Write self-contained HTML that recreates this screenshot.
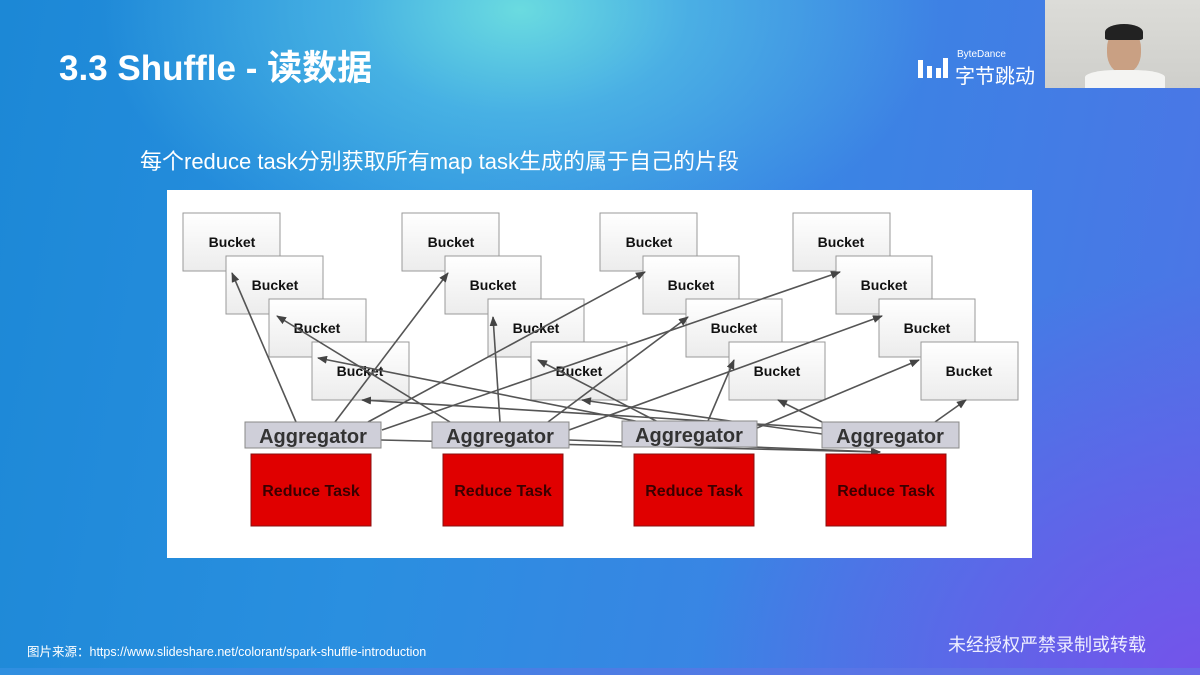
<!DOCTYPE html>
<html><head><meta charset="utf-8"><style>
html,body{margin:0;padding:0}
body{width:1200px;height:675px;overflow:hidden;position:relative;font-family:"Liberation Sans","Noto Sans CJK SC",sans-serif;
background:radial-gradient(ellipse 420px 260px at 520px 10px,#6adbe0 0%,rgba(90,200,230,0.6) 40%,rgba(60,150,225,0) 100%),radial-gradient(ellipse 500px 400px at 1200px 675px,rgba(120,80,235,0.9) 0%,rgba(120,80,235,0) 100%),linear-gradient(100deg,#1c88d6 0%,#2a8fe0 35%,#3a84e4 65%,#4d74e6 100%);}
.t{position:absolute;color:#fff}
</style></head><body>
<div class="t" style="left:59px;top:40px;font-size:35px;font-weight:bold">3.3 Shuffle - 读数据</div>
<div class="t" style="left:918px;top:54px;width:30px;height:26px">
<svg width="30" height="26"><rect x="0" y="6" width="5" height="18" fill="#fff"/><rect x="9" y="12" width="5" height="12" fill="#fff"/><rect x="18" y="14" width="5" height="10" fill="#fff"/><rect x="25" y="4" width="5" height="20" fill="#fff"/></svg></div>
<div class="t" style="left:957px;top:49px;font-size:10px">ByteDance</div>
<div class="t" style="left:955px;top:60px;font-size:20px">字节跳动</div>
<div style="position:absolute;left:1045px;top:0;width:155px;height:88px;background:linear-gradient(180deg,#dcdcd8,#cfcfcb)">
<div style="position:absolute;left:62px;top:28px;width:34px;height:45px;border-radius:45%;background:#c9a083"></div>
<div style="position:absolute;left:60px;top:24px;width:38px;height:16px;border-radius:50% 50% 10% 10%;background:#222"></div>
<div style="position:absolute;left:40px;top:70px;width:80px;height:18px;border-radius:40% 40% 0 0;background:#f4f4f2"></div>
</div>
<div style="position:absolute;left:0;top:668px;width:1200px;height:7px;background:linear-gradient(90deg,#2f8fe0,#6a6ae8)"></div>
<div class="t" style="left:140px;top:144px;font-size:22px">每个reduce task分别获取所有map task生成的属于自己的片段</div>
<div style="position:absolute;left:167px;top:190px;width:865px;height:368px;background:#fff"></div>
<svg style="position:absolute;left:0;top:0" width="1200" height="675">
<defs>
<linearGradient id="bg" x1="0" y1="0" x2="0" y2="1"><stop offset="0" stop-color="#fff"/><stop offset="1" stop-color="#ececec"/></linearGradient>
<marker id="a" markerWidth="10" markerHeight="8" refX="9" refY="4" orient="auto" markerUnits="userSpaceOnUse"><path d="M0,0 L10,4 L0,8 z" fill="#444"/></marker>
</defs>
<g font-family="Liberation Sans,sans-serif" font-weight="bold" font-size="14" fill="#111" text-anchor="middle">
<g stroke="#999" fill="url(#bg)">
<rect x="183" y="213" width="97" height="58"/><rect x="226" y="256" width="97" height="58"/><rect x="269" y="299" width="97" height="58"/><rect x="312" y="342" width="97" height="58"/>
<rect x="402" y="213" width="97" height="58"/><rect x="445" y="256" width="96" height="58"/><rect x="488" y="299" width="96" height="58"/><rect x="531" y="342" width="96" height="58"/>
<rect x="600" y="213" width="97" height="58"/><rect x="643" y="256" width="96" height="58"/><rect x="686" y="299" width="96" height="58"/><rect x="729" y="342" width="96" height="58"/>
<rect x="793" y="213" width="97" height="58"/><rect x="836" y="256" width="96" height="58"/><rect x="879" y="299" width="96" height="58"/><rect x="921" y="342" width="97" height="58"/>
</g>
<text x="232" y="247">Bucket</text><text x="275" y="290">Bucket</text><text x="317" y="333">Bucket</text><text x="360" y="376">Bucket</text>
<text x="451" y="247">Bucket</text><text x="493" y="290">Bucket</text><text x="536" y="333">Bucket</text><text x="579" y="376">Bucket</text>
<text x="649" y="247">Bucket</text><text x="691" y="290">Bucket</text><text x="734" y="333">Bucket</text><text x="777" y="376">Bucket</text>
<text x="841" y="247">Bucket</text><text x="884" y="290">Bucket</text><text x="927" y="333">Bucket</text><text x="969" y="376">Bucket</text>
<g stroke="#555" stroke-width="1.6" fill="none" marker-end="url(#a)">
<line x1="296" y1="422" x2="232" y2="273"/><line x1="335" y1="422" x2="448" y2="273"/><line x1="368" y1="422" x2="645" y2="272"/><line x1="382" y1="430" x2="840" y2="272"/>
<line x1="450" y1="422" x2="277" y2="316"/><line x1="500" y1="422" x2="493" y2="317"/><line x1="548" y1="422" x2="688" y2="317"/><line x1="569" y1="430" x2="882" y2="316"/>
<line x1="640" y1="422" x2="318" y2="358"/><line x1="660" y1="423" x2="538" y2="360"/><line x1="708" y1="421" x2="734" y2="360"/><line x1="757" y1="428" x2="919" y2="360"/>
<line x1="822" y1="428" x2="362" y2="400"/><line x1="822" y1="434" x2="582" y2="400"/><line x1="822" y1="422" x2="778" y2="400"/><line x1="935" y1="422" x2="966" y2="400"/>
<line x1="381" y1="440" x2="880" y2="452"/><line x1="569" y1="440" x2="880" y2="452"/>
</g>
<g stroke="#888" fill="#cfcfd9">
<rect x="245" y="422" width="136" height="26"/><rect x="432" y="422" width="137" height="26"/><rect x="622" y="421" width="135" height="26"/><rect x="822" y="422" width="137" height="26"/>
</g>
<g font-size="20" fill="#333" font-weight="normal" style="font-weight:600">
<text x="313" y="443">Aggregator</text><text x="500" y="443">Aggregator</text><text x="689" y="442">Aggregator</text><text x="890" y="443">Aggregator</text>
</g>
<g stroke="#8a1010" fill="#e00000">
<rect x="251" y="454" width="120" height="72"/><rect x="443" y="454" width="120" height="72"/><rect x="634" y="454" width="120" height="72"/><rect x="826" y="454" width="120" height="72"/>
</g>
<g font-size="16" fill="#3a0000">
<text x="311" y="496">Reduce Task</text><text x="503" y="496">Reduce Task</text><text x="694" y="496">Reduce Task</text><text x="886" y="496">Reduce Task</text>
</g>
</g>
</svg>
<div class="t" style="left:27px;top:641px;font-size:12.5px">图片来源：https://www.slideshare.net/colorant/spark-shuffle-introduction</div>
<div class="t" style="left:948px;top:631px;font-size:18px;color:#eef">未经授权严禁录制或转载</div>
</body></html>
